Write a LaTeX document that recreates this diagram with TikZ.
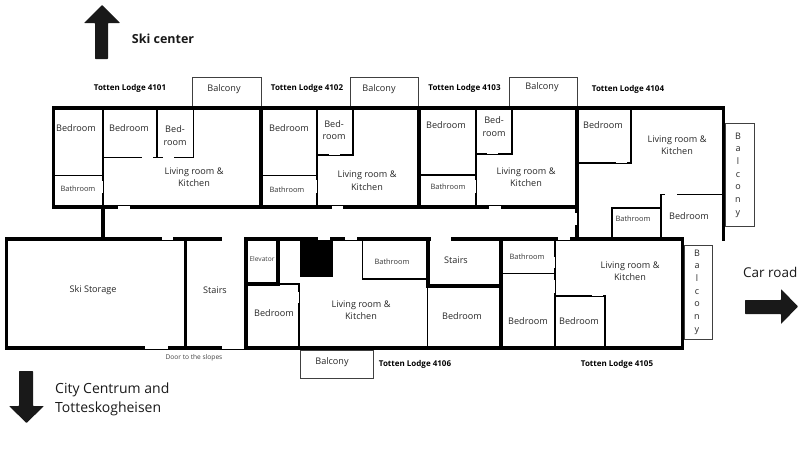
\documentclass[tikz,border=0pt]{standalone}
\usepackage{fontspec}
\setmainfont{Open Sans}
\usetikzlibrary{positioning}
\tikzset{
    wall/.style = {line width = 3.6pt, line cap = rect},
    thinwall/.style = {line width = 1.8pt, line cap = rect},
    door/.style = {draw = white, line width = 2.6pt},
    thindoor/.style = {draw = white, line width = 1.3pt},
    balcony/.style = {draw = black!75, line width = 0.8pt},
    bigarrow/.style = {fill = black!90, rounded corners = 0.6pt},
    room/.style = {font = \fontsize{9.1}{12.5}\selectfont, align = center, text = black!85, inner sep = 0pt},
    smallroom/.style = {font = \fontsize{7.4}{9}\selectfont, text = black!80, inner sep = 0pt},
    tinyroom/.style = {font = \fontsize{6.6}{8}\selectfont, text = black!75, inner sep = 0pt},
    lodge/.style = {font = \fontsize{8}{10}\selectfont\bfseries, inner sep = 0pt},
    sign/.style = {font = \fontsize{14}{19}\selectfont, align = left, inner sep = 0pt, text = black!90},
    letters/.style = {font = \fontsize{9}{12.7}\selectfont, align = center, text = black!85, inner sep = 0pt}
}
\begin{document}
\begin{tikzpicture}[x = 1pt, y = -1pt]
    \useasboundingbox (0,0) rectangle (800,450);
    % balconies
    \draw[balcony] (192.7,106) -- (192.7,77) -- (261,77) -- (261,106);
    \draw[balcony] (350,106) -- (350,77) -- (418,77) -- (418,106);
    \draw[balcony] (509,106) -- (509,77) -- (577,77) -- (577,106);
    \draw[balcony] (725,123) rectangle (754,226);
    \draw[balcony] (684,245) rectangle (712,339);
    \draw[balcony] (300,350) rectangle (373,378);
    % upper row, outer walls
    \draw[wall] (53.5,207) -- (53.5,108) -- (723.5,108) -- (723.5,239);
    \draw[wall] (53.5,207) -- (577,207);
    \draw[wall] (261,108) -- (261,207);
    \draw[wall] (419,108) -- (419,207);
    \draw[wall] (577,108) -- (577,239);
    \draw[wall] (103,207) -- (103,239);
    % 4101
    \draw[thinwall] (103,108) -- (103,207);
    \draw[thinwall] (53.5,175.5) -- (103,175.5);
    \draw[thinwall] (103,157.5) -- (193.5,157.5) -- (193.5,108);
    \draw[thinwall] (157,108) -- (157,157.5);
    % 4102
    \draw[thinwall] (317,108) -- (317,207);
    \draw[thinwall] (261,175.5) -- (317,175.5);
    \draw[thinwall] (317,155) -- (353,155) -- (353,108);
    % 4103
    \draw[thinwall] (476,108) -- (476,207);
    \draw[thinwall] (419,175) -- (476,175);
    \draw[thinwall] (476,154) -- (512,154) -- (512,108);
    % 4104
    \draw[thinwall] (577,163) -- (631,163) -- (631,108);
    \draw[thinwall] (723.5,194.5) -- (661,194.5) -- (661,239);
    \draw[thinwall] (661,208) -- (612,208) -- (612,239);
    % lower row, outer walls
    \draw[wall] (220,239) -- (6.5,239) -- (6.5,348) -- (220,348);
    \draw[wall] (185.5,239) -- (185.5,348);
    \draw[line width = 0.8pt] (220,349) -- (246,349);
    \draw[wall] (429,239) -- (246,239) -- (246,348) -- (682.5,348) -- (682.5,239) -- (453,239);
    \draw[wall] (428,239) -- (428,286) -- (501,286);
    \draw[wall] (501,239) -- (501,348);
    % 4106
    \fill (300,239) rectangle (333,277);
    \draw[wall] (246,284) -- (278,284) -- (278,239);
    \draw[thinwall] (278,284) -- (299,284) -- (299,348);
    \draw[thinwall] (428,279) -- (362.5,279) -- (362.5,239);
    \draw[thinwall] (427.5,286) -- (427.5,348);
    % 4105
    \draw[thinwall] (555,239) -- (555,348);
    \draw[thinwall] (501,273.5) -- (555,273.5);
    \draw[thinwall] (555,295.7) -- (605,295.7) -- (605,348);
    % doors
    \draw[thindoor] (142,157.1) -- (153,157.1);
    \draw[thindoor] (163,157.1) -- (174,157.1);
    \draw[thindoor] (102.6,181) -- (102.6,193);
    \draw[door] (118,207.7) -- (130,207.7);
    \draw[thindoor] (329,154.6) -- (340,154.6);
    \draw[thindoor] (316.6,180) -- (316.6,193);
    \draw[door] (332,207.7) -- (343,207.7);
    \draw[thindoor] (487,153.6) -- (498,153.6);
    \draw[thindoor] (475.6,180) -- (475.6,193);
    \draw[door] (489,207.7) -- (501,207.7);
    \draw[thindoor] (616,162.6) -- (627,162.6);
    \draw[thindoor] (665,194.1) -- (677,194.1);
    \draw[door] (575.9,213) -- (575.9,225);
    \draw[door] (558,238.3) -- (570,238.3);
    \draw[door] (162,238.3) -- (173,238.3);
    \draw[door] (318,238.3) -- (330,238.3);
    \draw[door] (345,238.3) -- (357,238.3);
    \draw[door] (145,347.3) -- (168,347.3);
    \draw[thindoor] (554.6,257) -- (554.6,268);
    \draw[thindoor] (554.6,280) -- (554.6,293);
    \draw[thindoor] (592,295.3) -- (603,295.3);
    \draw[thindoor] (298.6,292) -- (298.6,303);
    % direction arrows
    \fill[bigarrow] (95,59) -- (95,23) -- (84,23) -- (102,5) -- (120,23) -- (108,23) -- (108,59) -- cycle;
    \fill[bigarrow] (19,371) -- (33,371) -- (33,406) -- (44,406) -- (26.5,423) -- (9,406) -- (19,406) -- cycle;
    \fill[bigarrow] (745,300) -- (781,300) -- (781,289) -- (798,306.5) -- (781,324) -- (781,314) -- (745,314) -- cycle;
    % signs
    \node[sign, font = \fontsize{12.5}{14}\selectfont\bfseries] (skicenter) at (163,38.5) {Ski center};
    \node[sign, anchor = west] (centrum) at (55,399.5) {City Centrum and\\Totteskogheisen};
    \node[sign, anchor = west, font = \fontsize{13.5}{15}\selectfont] (carroad) at (743,272) {Car road};
    % lodge names
    \node[lodge] (lodge1) at (130,88) {Totten Lodge 4101};
    \node[lodge] (lodge2) at (307,88) {Totten Lodge 4102};
    \node[lodge] (lodge3) at (464.5,88) {Totten Lodge 4103};
    \node[lodge] (lodge4) at (628,89) {Totten Lodge 4104};
    \node[lodge] (lodge5) at (617,364) {Totten Lodge 4105};
    \node[lodge] (lodge6) at (415,364.5) {Totten Lodge 4106};
    % balcony labels
    \node[room] (balc1) at (224,89) {Balcony};
    \node[room] (balc2) at (379,89) {Balcony};
    \node[room] (balc3) at (542,87) {Balcony};
    \node[room] (balc6) at (332,362) {Balcony};
    \node[letters] (balc4) at (738,175) {B\\a\\l\\c\\o\\n\\y};
    \node[letters] (balc5) at (697,292) {B\\a\\l\\c\\o\\n\\y};
    % upper row rooms
    \node[room] (bed1a) at (76,127.7) {Bedroom};
    \node[room] (bed1b) at (129,127.7) {Bedroom};
    \node[room] (bed1c) at (175,135.5) {Bed-\\room};
    \node[room] (liv1) at (194,177) {Living room \&\\Kitchen};
    \node[smallroom] (bath1) at (78,189) {Bathroom};
    \node[room] (bed2a) at (289,128.5) {Bedroom};
    \node[room] (bed2b) at (334,130) {Bed-\\room};
    \node[room] (liv2) at (367,180.5) {Living room \&\\Kitchen};
    \node[smallroom] (bath2) at (287,190) {Bathroom};
    \node[room] (bed3a) at (446,125) {Bedroom};
    \node[room] (bed3b) at (494,126.5) {Bed-\\room};
    \node[room] (liv3) at (526,177) {Living room \&\\Kitchen};
    \node[smallroom] (bath3) at (448,186.5) {Bathroom};
    \node[room] (bed4a) at (603,125) {Bedroom};
    \node[room] (liv4) at (677,145) {Living room \&\\Kitchen};
    \node[smallroom] (bath4) at (633,218.5) {Bathroom};
    \node[room] (bed4b) at (689,216) {Bedroom};
    % lower row rooms
    \node[room] (storage) at (93,290) {Ski Storage};
    \node[room] (stairs1) at (215,290) {Stairs};
    \node[tinyroom] (slopes) at (194,357.5) {Door to the slopes};
    \node[tinyroom] (elevator) at (262,259) {Elevator};
    \node[room] (bed6a) at (274,313.5) {Bedroom};
    \node[room] (liv6) at (361,310) {Living room \&\\Kitchen};
    \node[smallroom] (bath6) at (392,262) {Bathroom};
    \node[room] (stairs2) at (456,260) {Stairs};
    \node[room] (bed6b) at (462,316) {Bedroom};
    \node[smallroom] (bath5) at (527,257) {Bathroom};
    \node[room] (bed5a) at (528,321) {Bedroom};
    \node[room] (bed5b) at (579,321) {Bedroom};
    \node[room] (liv5) at (630,271) {Living room \&\\Kitchen};
\end{tikzpicture}
\end{document}
